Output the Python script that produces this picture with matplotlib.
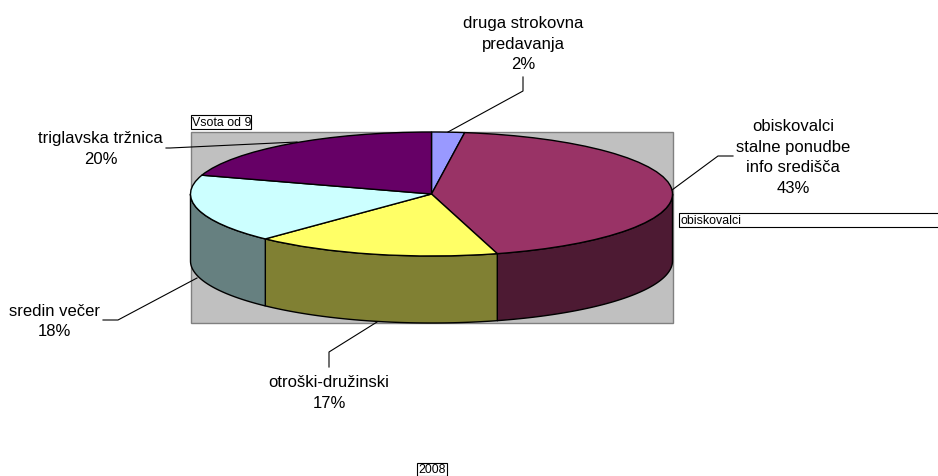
import numpy as np
import matplotlib
matplotlib.use('Agg')
import matplotlib.pyplot as plt
from matplotlib.patches import Rectangle

plt.rcParams['font.family'] = ['Liberation Sans', 'DejaVu Sans']

# Estimated shares, the labels show them rounded
categories = ['druga strokovna\npredavanja', 'obiskovalci\nstalne ponudbe\ninfo središča',
              'otroški-družinski', 'sredin večer', 'triglavska tržnica']
values = [2.2, 43.4, 16.51, 17.8, 20.09]
top_colors = ['#9999FF', '#993366', '#FFFF66', '#CCFFFF', '#660066']
side_colors = ['#4D4D80', '#4D1A33', '#808033', '#668080', '#330033']

# Where things sit in the picture, in pixels
WIDTH, HEIGHT = 938, 476
CX, CY, RX, RY, DEPTH = 431.5, 194, 241, 62, 67

label_pos = [(523, 44), (793, 157.5), (329, 393), (54.5, 321.5), (100.5, 149)]
leaders = [
    [(523, 77), (523, 91), (448, 132)],
    [(733, 156), (718, 156), (672, 190)],
    [(329, 367), (329, 352), (377, 322)],
    [(103, 320), (118, 320), (197, 278)],
    [(166, 148), (170, 148), (297, 142)],
]

fig = plt.figure(figsize=(WIDTH / 100, HEIGHT / 100), dpi=100, facecolor='white')

# Pixel axes on top for the labels and leader lines
ax_px = fig.add_axes([0, 0, 1, 1], zorder=3)
ax_px.set_xlim(0, WIDTH)
ax_px.set_ylim(HEIGHT, 0)
ax_px.axis('off')

# Pie axes: unit circle squashed to the top ellipse
ax = fig.add_axes([0, 0, 1, 1], zorder=1)
ax.pie(values, colors=top_colors, startangle=90, counterclock=False, radius=1,
       wedgeprops={'edgecolor': 'black', 'linewidth': 1.0, 'zorder': 5})
ax.set_aspect('auto')
ax.set_position([0, 0, 1, 1])
ax.set_xlim(-CX / RX, (WIDTH - CX) / RX)
ax.set_ylim((CY - HEIGHT) / RY, CY / RY)

ax.add_patch(Rectangle((190.5, 132), 482, 191, transform=ax_px.transData,
                       facecolor='#C0C0C0', edgecolor='#808080', linewidth=1.0, zorder=0))

# Side wall, only the front half of the cylinder shows
drop = DEPTH / RY
edges = np.cumsum([0] + values) / sum(values) * 360
for start, end, col in zip(edges[:-1], edges[1:], side_colors):
    a0, a1 = max(start, 90), min(end, 270)
    if a1 <= a0:
        continue
    t = np.radians(np.linspace(a0, a1, 120))
    x, y = np.sin(t), np.cos(t)
    ax.fill(np.r_[x, x[::-1]], np.r_[y, y[::-1] - drop], facecolor=col,
            edgecolor='black', linewidth=1.0, zorder=2)

for name, value, (lx, ly), pts in zip(categories, values, label_pos, leaders):
    ax_px.text(lx, ly, f'{name}\n{round(value / sum(values) * 100)}%', ha='center', va='center',
               fontsize=12, color='black', linespacing=1.49)
    ax_px.plot([p[0] for p in pts], [p[1] for p in pts], color='black', lw=0.8)

# Pivot field buttons
boxes = [('Vsota od 9', 190.5, 114.5, 60.5, 14.5), ('obiskovalci', 678.5, 212.5, 270, 14.5),
         ('2008', 416.5, 462.5, 30.5, 13.5)]
for txt, bx, by, bw, bh in boxes:
    ax_px.add_patch(Rectangle((bx, by), bw, bh, facecolor='white', edgecolor='black', linewidth=0.8))
    ax_px.text(bx + 2, by + bh / 2 + 1, txt, ha='left', va='center', fontsize=8.9, color='black')

fig.savefig('out.png', dpi=100)
